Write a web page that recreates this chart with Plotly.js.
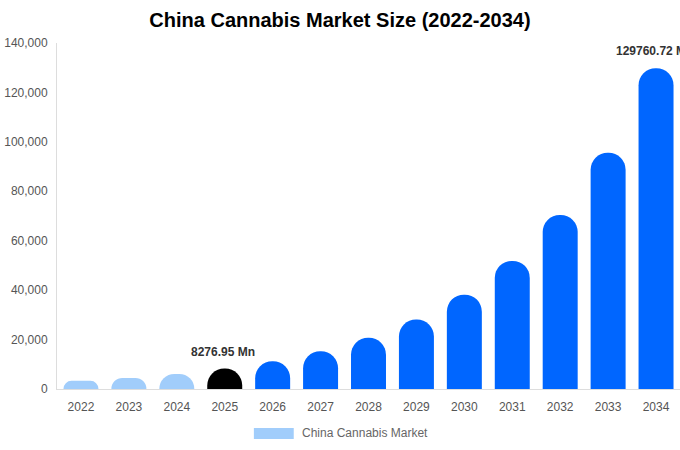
<!DOCTYPE html>
<html>
<head>
<meta charset="utf-8">
<script src="https://cdn.plot.ly/plotly-3.0.1.min.js"></script>
<style>
  html, body { margin: 0; padding: 0; background: #fff; }
  #chart { width: 680px; height: 450px; }
</style>
</head>
<body>
<div id="chart"></div>
<script>
var years = ["2022","2023","2024","2025","2026","2027","2028","2029","2030","2031","2032","2033","2034"];
var marketSize = [3300, 4490, 6100, 8276.95, 11240, 15260, 20710, 28120, 38180, 51840, 70390, 95570, 129760.72];
var barColors = ["#a1cdfb","#a1cdfb","#a1cdfb","#000000","#0066ff","#0066ff","#0066ff","#0066ff","#0066ff","#0066ff","#0066ff","#0066ff","#0066ff"];
var yTicks = [0, 20000, 40000, 60000, 80000, 100000, 120000, 140000];
var labelled = ["2025", "2034"];

var trace1 = {
  x: years,
  y: marketSize,
  name: 'China Cannabis Market',
  type: 'bar',
  marker: {
    color: barColors,
    cornerradius: 17,
    line: { width: 0 }
  },
  hoverinfo: 'x+y',
  showlegend: false
};

var notes = [];
labelled.forEach(function (yr) {
  var i = years.indexOf(yr);
  // category axis: use the index, a numeric-looking string gets read as a number
  notes.push({
    x: i, y: marketSize[i], xref: 'x', yref: 'y',
    text: '<b>' + marketSize[i].toFixed(2) + ' Mn</b>',
    showarrow: false, yanchor: 'bottom', yshift: 8, xshift: -2,
    font: { family: 'Liberation Sans, Arial, sans-serif', size: 12, color: '#333333' }
  });
});
// legend text
notes.push({
  x: 0.39, y: -0.128, xref: 'paper', yref: 'paper',
  text: 'China Cannabis Market', showarrow: false,
  xanchor: 'left', yanchor: 'middle',
  font: { family: 'Liberation Sans, Arial, sans-serif', size: 12, color: '#666666' }
});

var layout = {
  width: 680,
  height: 450,
  margin: { l: 57, r: 0, t: 43, b: 61 },
  paper_bgcolor: '#ffffff',
  plot_bgcolor: '#ffffff',
  font: { family: 'Liberation Sans, Arial, sans-serif', size: 12, color: '#666666' },
  title: {
    text: '<b>China Cannabis Market Size (2022-2034)</b>',
    font: { family: 'Liberation Sans, Arial, sans-serif', size: 20, color: '#000000' },
    x: 0.5, xref: 'container', xanchor: 'center',
    y: 0.955, yref: 'container', yanchor: 'middle'
  },
  bargap: 0.27,
  xaxis: {
    type: 'category',
    range: [-0.5, years.length - 0.5],
    showgrid: false,
    showline: true,
    linecolor: '#dddddd',
    linewidth: 1,
    ticks: '',
    ticklabelstandoff: 7,
    tickfont: { size: 12, color: '#555555' },
    fixedrange: true
  },
  yaxis: {
    range: [0, 140000],
    tickvals: yTicks,
    tickformat: ',d',
    showgrid: false,
    zeroline: false,
    showline: true,
    linecolor: '#dddddd',
    linewidth: 1,
    ticks: '',
    ticklabelstandoff: 6,
    tickfont: { size: 12, color: '#555555' },
    fixedrange: true
  },
  shapes: [{
    type: 'rect', xref: 'paper', yref: 'paper',
    x0: 0.316, x1: 0.380, y0: -0.1445, y1: -0.1127,
    fillcolor: '#a1cdfb', line: { width: 0 }
  }],
  annotations: notes,
  showlegend: false
};

Plotly.newPlot('chart', [trace1], layout, { displayModeBar: false, staticPlot: true });
</script>
</body>
</html>
